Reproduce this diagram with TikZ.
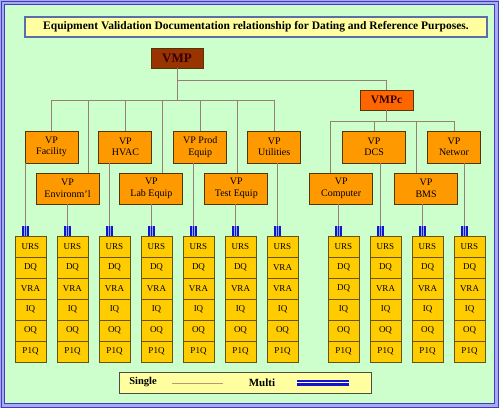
\documentclass[tikz,border=0pt]{standalone}
\usepackage{fontspec}
\setmainfont{Liberation Serif}
\usetikzlibrary{positioning, calc}
\definecolor{bggreen}{RGB}{204,255,204}
\definecolor{framelav}{RGB}{170,170,240}
\definecolor{frameblue}{RGB}{60,60,200}
\definecolor{titlefill}{RGB}{255,255,160}
\definecolor{titleline}{RGB}{90,110,170}
\definecolor{vmpred}{RGB}{153,51,0}
\definecolor{vmpcred}{RGB}{255,102,0}
\definecolor{vmptext}{RGB}{50,0,0}
\definecolor{vporange}{RGB}{255,153,0}
\definecolor{boxline}{RGB}{80,55,10}
\definecolor{docyellow}{RGB}{255,204,0}
\definecolor{docline}{RGB}{100,85,20}
\definecolor{connline}{RGB}{150,128,118}
\definecolor{singletan}{RGB}{190,150,120}
\definecolor{mblue}{RGB}{20,20,200}
\definecolor{mlight}{RGB}{140,170,255}
\tikzstyle{vp}=[draw=boxline, fill=vporange, line width=.9pt, minimum width=53pt,
                minimum height=32pt, inner sep=1pt, align=center,
                font=\fontsize{10}{11.5}\selectfont]
\tikzstyle{wide}=[minimum width=63pt]
\tikzstyle{vplow}=[minimum height=31pt]
\tikzstyle{docbox}=[draw=docline, fill=docyellow, line width=.8pt, minimum width=31pt,
                    minimum height=21pt, inner sep=0pt, outer sep=0pt,
                    font=\fontsize{9}{10}\selectfont]
\tikzstyle{conn}=[draw=connline, line width=.9pt]
\tikzset{multibar/.pic={
    \fill[mblue] (-3.5,0) rectangle (3.5,-10);
    \draw[mlight, line width=.8pt] (-1.2,0) -- (-1.2,-10) (1.2,0) -- (1.2,-10);
  }}

\begin{document}
\begin{tikzpicture}[x=1pt, y=-1pt]
  \useasboundingbox (0,0) rectangle (499,408);
  % frame
  \fill[framelav] (0,0) rectangle (499,408);
  \draw[frameblue, line width=.8pt] (1,1) rectangle (498,407);
  \draw[fill=bggreen, draw=frameblue, line width=1pt] (4,4) rectangle (494,403);

  \node[draw=titleline, fill=titlefill, line width=1.2pt, minimum width=462pt,
        minimum height=20pt, font=\bfseries\fontsize{11.5}{13}\selectfont] (title) at (256,27)
        {Equipment Validation Documentation relationship for Dating and Reference Purposes.};

  \node[draw=boxline, fill=vmpred, line width=.9pt, minimum width=52pt, minimum height=20pt,
        text=vmptext, font=\bfseries\fontsize{13}{14}\selectfont] (vmp) at (177,58) {VMP};
  \node[draw=boxline, fill=vmpcred, line width=.9pt, minimum width=53pt, minimum height=20pt,
        text=vmptext, font=\bfseries\fontsize{11.5}{13}\selectfont] (vmpc) at (386.5,100) {VMPc};

  % validation plans
  \node[vp] (fac) at (51.5,147) {VP\\Facility};
  \node[vp] (hvac) [right=20pt of fac] {VP\\HVAC};
  \node[vp] (prod) [right=21pt of hvac] {VP Prod\\Equip};
  \node[vp] (util) [right=20pt of prod] {VP\\Utilities};
  \node[vp,wide] (dcs) [right=41pt of util] {VP\\DCS};
  \node[vp] (net) [right=21pt of dcs] {VP\\Networ};
  \node[vp,wide,vplow] (env) at (67.5,188.5) {VP\\Environm'l};
  \node[vp,wide,vplow] (lab) [right=20pt of env] {VP\\Lab Equip};
  \node[vp,wide,vplow] (test) [right=21pt of lab] {VP\\Test Equip};
  \node[vp,wide,vplow] (comp) [right=41pt of test] {VP\\Computer};
  \node[vp,wide,vplow] (bms) [right=21pt of comp] {VP\\BMS};

  % documents
  \node[docbox] (s1a) at (30.5,246.5) {URS};
  \node[docbox] (s1b) [below=0pt of s1a] {DQ};
  \node[docbox] (s1c) [below=0pt of s1b] {VRA};
  \node[docbox] (s1d) [below=0pt of s1c] {IQ};
  \node[docbox] (s1e) [below=0pt of s1d] {OQ};
  \node[docbox] (s1f) [below=0pt of s1e] {P1Q};

  \node[docbox] (s2a) [right=11pt of s1a] {URS};
  \node[docbox] (s2b) [below=0pt of s2a] {DQ};
  \node[docbox] (s2c) [below=0pt of s2b] {VRA};
  \node[docbox] (s2d) [below=0pt of s2c] {IQ};
  \node[docbox] (s2e) [below=0pt of s2d] {OQ};
  \node[docbox] (s2f) [below=0pt of s2e] {P1Q};

  \node[docbox] (s3a) [right=11pt of s2a] {URS};
  \node[docbox] (s3b) [below=0pt of s3a] {DQ};
  \node[docbox] (s3c) [below=0pt of s3b] {VRA};
  \node[docbox] (s3d) [below=0pt of s3c] {IQ};
  \node[docbox] (s3e) [below=0pt of s3d] {OQ};
  \node[docbox] (s3f) [below=0pt of s3e] {P1Q};

  \node[docbox] (s4a) [right=11pt of s3a] {URS};
  \node[docbox] (s4b) [below=0pt of s4a] {DQ};
  \node[docbox] (s4c) [below=0pt of s4b] {VRA};
  \node[docbox] (s4d) [below=0pt of s4c] {IQ};
  \node[docbox] (s4e) [below=0pt of s4d] {OQ};
  \node[docbox] (s4f) [below=0pt of s4e] {P1Q};

  \node[docbox] (s5a) [right=11pt of s4a] {URS};
  \node[docbox] (s5b) [below=0pt of s5a] {DQ};
  \node[docbox] (s5c) [below=0pt of s5b] {VRA};
  \node[docbox] (s5d) [below=0pt of s5c] {IQ};
  \node[docbox] (s5e) [below=0pt of s5d] {OQ};
  \node[docbox] (s5f) [below=0pt of s5e] {P1Q};

  \node[docbox] (s6a) [right=11pt of s5a] {URS};
  \node[docbox] (s6b) [below=0pt of s6a] {DQ};
  \node[docbox] (s6c) [below=0pt of s6b] {VRA};
  \node[docbox] (s6d) [below=0pt of s6c] {IQ};
  \node[docbox] (s6e) [below=0pt of s6d] {OQ};
  \node[docbox] (s6f) [below=0pt of s6e] {P1Q};

  \node[docbox] (s7a) [right=11pt of s6a] {URS};
  \node[docbox] (s7b) [below=0pt of s7a] {VRA};
  \node[docbox] (s7c) [below=0pt of s7b] {VRA};
  \node[docbox] (s7d) [below=0pt of s7c] {IQ};
  \node[docbox] (s7e) [below=0pt of s7d] {OQ};
  \node[docbox] (s7f) [below=0pt of s7e] {P1Q};

  \node[docbox] (s8a) [right=30pt of s7a] {URS};
  \node[docbox] (s8b) [below=0pt of s8a] {DQ};
  \node[docbox] (s8c) [below=0pt of s8b] {DQ};
  \node[docbox] (s8d) [below=0pt of s8c] {IQ};
  \node[docbox] (s8e) [below=0pt of s8d] {OQ};
  \node[docbox] (s8f) [below=0pt of s8e] {P1Q};

  \node[docbox] (s9a) [right=11pt of s8a] {URS};
  \node[docbox] (s9b) [below=0pt of s9a] {DQ};
  \node[docbox] (s9c) [below=0pt of s9b] {VRA};
  \node[docbox] (s9d) [below=0pt of s9c] {IQ};
  \node[docbox] (s9e) [below=0pt of s9d] {OQ};
  \node[docbox] (s9f) [below=0pt of s9e] {P1Q};

  \node[docbox] (s10a) [right=11pt of s9a] {URS};
  \node[docbox] (s10b) [below=0pt of s10a] {DQ};
  \node[docbox] (s10c) [below=0pt of s10b] {VRA};
  \node[docbox] (s10d) [below=0pt of s10c] {IQ};
  \node[docbox] (s10e) [below=0pt of s10d] {OQ};
  \node[docbox] (s10f) [below=0pt of s10e] {P1Q};

  \node[docbox] (s11a) [right=11pt of s10a] {URS};
  \node[docbox] (s11b) [below=0pt of s11a] {DQ};
  \node[docbox] (s11c) [below=0pt of s11b] {VRA};
  \node[docbox] (s11d) [below=0pt of s11c] {IQ};
  \node[docbox] (s11e) [below=0pt of s11d] {OQ};
  \node[docbox] (s11f) [below=0pt of s11e] {P1Q};

  % buses from the master plans
  \coordinate (busvmp) at (0,100);
  \coordinate (busvmpc) at (0,121);
  \coordinate (gap1) at ($(fac.east)!.5!(hvac.west)$);
  \coordinate (gap2) at ($(hvac.east)!.5!(prod.west)$);
  \coordinate (gap3) at ($(prod.east)!.5!(util.west)$);
  \coordinate (gap4) at ($(comp.north)+(-11,0)$);
  \coordinate (gap5) at ($(dcs.east)!.5!(net.west)$);
  \draw[conn] (vmp.south) -- (vmp.south |- busvmp);
  \draw[conn] (vmp.south |- 0,80) -| (vmpc.north);
  \draw[conn] (fac.north |- busvmp) -- (util.north |- busvmp);
  \draw[conn] (fac.north |- busvmp) -- (fac.north);
  \draw[conn] (gap1 |- busvmp) -- (gap1 |- env.north);
  \draw[conn] (hvac.north |- busvmp) -- (hvac.north);
  \draw[conn] (gap2 |- busvmp) -- (gap2 |- lab.north);
  \draw[conn] (prod.north |- busvmp) -- (prod.north);
  \draw[conn] (gap3 |- busvmp) -- (gap3 |- test.north);
  \draw[conn] (util.north |- busvmp) -- (util.north);
  \draw[conn] (vmpc.south) -- (vmpc.south |- busvmpc);
  \draw[conn] (gap4 |- busvmpc) -- (net.north |- busvmpc);
  \draw[conn] (gap4 |- busvmpc) -- (gap4 |- comp.north);
  \draw[conn] (dcs.north |- busvmpc) -- (dcs.north);
  \draw[conn] (gap5 |- busvmpc) -- (gap5 |- bms.north);
  \draw[conn] (net.north |- busvmpc) -- (net.north);

  % plans down to their documents
  \coordinate (t1) at ($(s1a.north west)!.33!(s1a.north east)$);
  \coordinate (t2) at ($(s2a.north west)!.33!(s2a.north east)$);
  \coordinate (t3) at ($(s3a.north west)!.33!(s3a.north east)$);
  \coordinate (t4) at ($(s4a.north west)!.33!(s4a.north east)$);
  \coordinate (t5) at ($(s5a.north west)!.33!(s5a.north east)$);
  \coordinate (t6) at ($(s6a.north west)!.33!(s6a.north east)$);
  \coordinate (t7) at ($(s7a.north west)!.33!(s7a.north east)$);
  \coordinate (t8) at ($(s8a.north west)!.33!(s8a.north east)$);
  \coordinate (t9) at ($(s9a.north west)!.33!(s9a.north east)$);
  \coordinate (t10) at ($(s10a.north west)!.33!(s10a.north east)$);
  \coordinate (t11) at ($(s11a.north west)!.33!(s11a.north east)$);
  \draw[conn] (fac.south -| t1) -- (t1);
  \draw[conn] (env.south -| t2) -- (t2);
  \draw[conn] (hvac.south -| t3) -- (t3);
  \draw[conn] (lab.south -| t4) -- (t4);
  \draw[conn] (prod.south -| t5) -- (t5);
  \draw[conn] (test.south -| t6) -- (t6);
  \draw[conn] (util.south -| t7) -- (t7);
  \draw[conn] (comp.south -| t8) -- (t8);
  \draw[conn] (dcs.south -| t9) -- (t9);
  \draw[conn] (bms.south -| t10) -- (t10);
  \draw[conn] (net.south -| t11) -- (t11);
  \pic at (t1) {multibar};
  \pic at (t2) {multibar};
  \pic at (t3) {multibar};
  \pic at (t4) {multibar};
  \pic at (t5) {multibar};
  \pic at (t6) {multibar};
  \pic at (t7) {multibar};
  \pic at (t8) {multibar};
  \pic at (t9) {multibar};
  \pic at (t10) {multibar};
  \pic at (t11) {multibar};

  % legend
  \node[draw=black!70, fill=titlefill, line width=1pt, minimum width=252pt,
        minimum height=21pt] (legend) at (245,382.5) {};
  \node[font=\bfseries\fontsize{10.5}{12}\selectfont] (single) at (143,382.5) {Single};
  \node[font=\bfseries\fontsize{11}{12}\selectfont] (multi) at (262,382.5) {Multi};
  \coordinate (sgA) at (172,383);
  \coordinate (sgB) at (223,383);
  \coordinate (mlA) at (297,383);
  \coordinate (mlB) at (349,383);
  \draw[singletan, line width=.9pt] (sgA) -- (sgB);
  \draw[mblue, line width=6pt] (mlA) -- (mlB);
  \draw[white, line width=1.4pt] ($(mlA)+(0,-.5)$) -- ($(mlB)+(0,-.5)$);
\end{tikzpicture}
\end{document}
